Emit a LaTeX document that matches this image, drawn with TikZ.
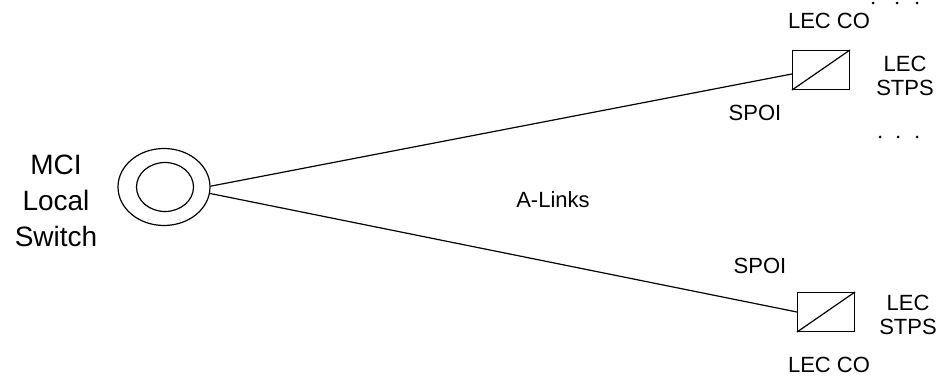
\documentclass[tikz,border=0pt]{standalone}
\usepackage{fontspec}
\setmainfont{Liberation Sans}
\usetikzlibrary{arrows,shapes}

\begin{document}
\begin{tikzpicture}
            [x=1pt,y=-1pt,line width=1.2pt,font=\fontsize{22}{24}\selectfont,
             stpbox/.style={rectangle,draw,minimum width=57pt,minimum height=39pt,inner sep=0pt}]

            \useasboundingbox (0,0) rectangle (943,379);

            \node (sw) [ellipse,draw,minimum width=92pt,minimum height=77pt] at (164,187) {};
            \node (swin) [ellipse,draw,minimum width=57pt,minimum height=49pt] at (165,187) {};
            \node (mci) [align=center,font=\fontsize{28}{36}\selectfont] at (56,201) {MCI\\Local\\Switch};

            \node (stpa) [stpbox] at (821,70) {};
            \node (stpb) [stpbox] at (826,312) {};
            \draw (stpa.south west) -- (stpa.north east);
            \draw (stpb.south west) -- (stpb.north east);

            \node (coa) at (829,21) {LEC CO};
            \node (cob) at (829,365) {LEC CO};
            \node (stpsa) [align=center] at (905,76) {LEC\\STPS};
            \node (stpsb) [align=center] at (908,315) {LEC\\STPS};
            \node (spoia) at (755,113) {SPOI};
            \node (spoib) at (760,266) {SPOI};
            \node (links) at (553,200) {A-Links};

            \path (sw.1) edge ([yshift=-4pt]stpa.west);
            \path (sw.-8) edge (stpb.west);

            \foreach \x in {873,897,917} \fill (\x,3) circle (1.5);
            \foreach \x in {880,898,917} \fill (\x,137) circle (1.5);
        \end{tikzpicture}
\end{document}
